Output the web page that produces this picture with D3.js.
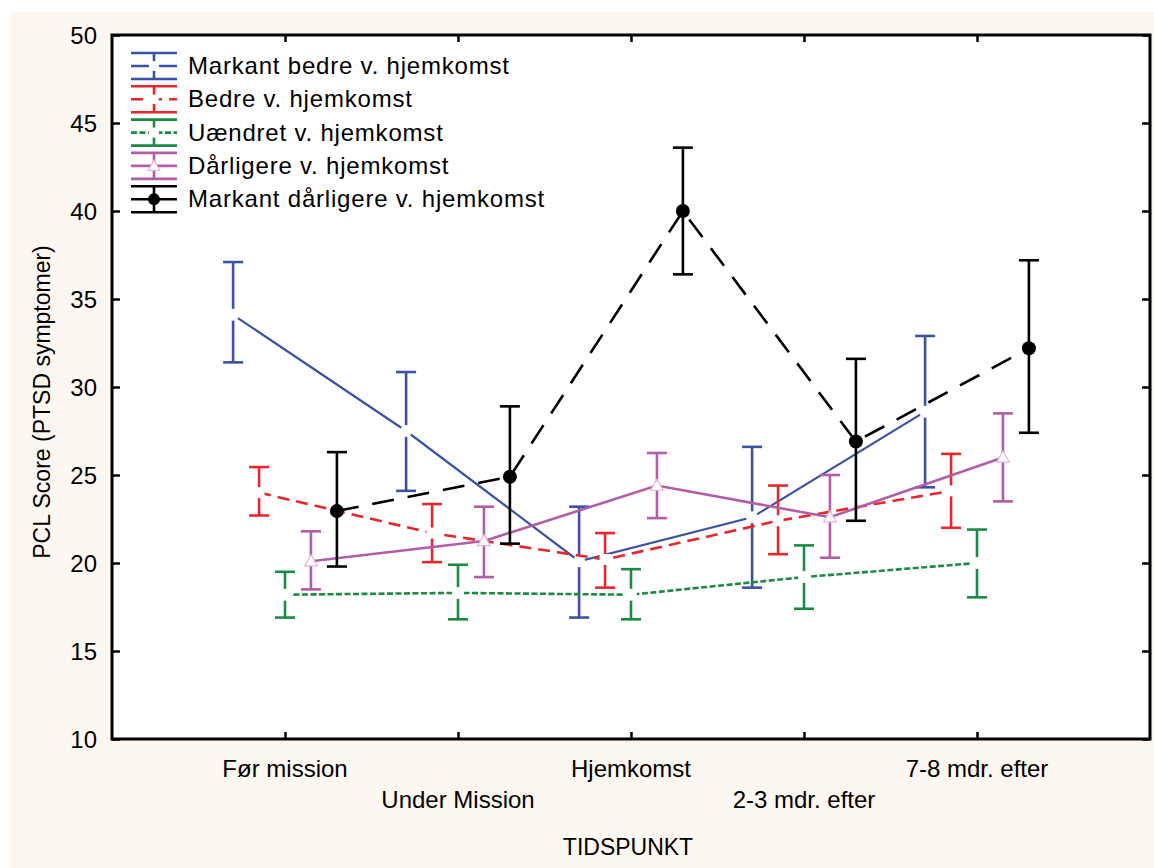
<!DOCTYPE html>
<html>
<head>
<meta charset="utf-8">
<script src="https://d3js.org/d3.v7.min.js"></script>
<style>
  body { margin: 0; background: #fff; }
  svg text { font-family: "Liberation Sans", Arial, sans-serif; fill: #000; }
</style>
</head>
<body>
<div id="chart"></div>
<script>
// time points on the x axis
var categories = ["Før mission", "Under Mission", "Hjemkomst", "2-3 mdr. efter", "7-8 mdr. efter"];

var seriesNames = [
    "Markant bedre v. hjemkomst",
    "Bedre v. hjemkomst",
    "Uændret v. hjemkomst",
    "Dårligere v. hjemkomst",
    "Markant dårligere v. hjemkomst"
];

// means and confidence limits, one array per group
var markantBedreMean = [34.1, 27.5, 20.1, 22.6, 28.6];
var markantBedreLow  = [31.4, 24.1, 16.9, 18.6, 24.3];
var markantBedreHigh = [37.1, 30.85, 23.2, 26.6, 32.9];

var bedreMean = [24.0, 21.7, 20.2, 22.4, 24.1];
var bedreLow  = [22.7, 20.05, 18.6, 20.5, 22.0];
var bedreHigh = [25.45, 23.35, 21.7, 24.4, 26.2];

var uaendretMean = [18.2, 18.3, 18.2, 19.2, 20.0];
var uaendretLow  = [16.9, 16.8, 16.8, 17.4, 18.05];
var uaendretHigh = [19.5, 19.9, 19.65, 21.0, 21.9];

var daarligereMean = [20.1, 21.25, 24.4, 22.6, 26.0];
var daarligereLow  = [18.5, 19.2, 22.55, 20.3, 23.5];
var daarligereHigh = [21.8, 23.2, 26.25, 25.0, 28.5];

var markantDaarligereMean = [22.95, 24.9, 40.0, 26.9, 32.2];
var markantDaarligereLow  = [19.8, 21.1, 36.4, 22.4, 27.4];
var markantDaarligereHigh = [26.3, 28.9, 43.6, 31.6, 37.2];

var yTicks = [10, 15, 20, 25, 30, 35, 40, 45, 50];

var W = 1154, H = 868;
var margin = {top: 35, right: 4, bottom: 129, left: 112};

var series = [
    {name: seriesNames[0], mean: markantBedreMean, lo: markantBedreLow, hi: markantBedreHigh,
     color: "#3a52a3", dash: null, width: 2.2, marker: "circle", offset: -0.3},
    {name: seriesNames[1], mean: bedreMean, lo: bedreLow, hi: bedreHigh,
     color: "#e8262b", dash: "12,7", width: 2.6, marker: "square", offset: -0.15},
    {name: seriesNames[2], mean: uaendretMean, lo: uaendretLow, hi: uaendretHigh,
     color: "#1b8a45", dash: "6,2.5", width: 2.6, marker: "circle", offset: 0},
    {name: seriesNames[3], mean: daarligereMean, lo: daarligereLow, hi: daarligereHigh,
     color: "#b35ca9", dash: null, width: 2.6, marker: "triangle", offset: 0.15},
    {name: seriesNames[4], mean: markantDaarligereMean, lo: markantDaarligereLow, hi: markantDaarligereHigh,
     color: "#000000", dash: "22,14", width: 2.6, marker: "dot", offset: 0.3}
];

var svg = d3.select("#chart").append("svg")
    .attr("width", W)
    .attr("height", H);

// cream page background
svg.append("rect")
    .attr("x", 10).attr("y", 12)
    .attr("width", W - 10).attr("height", H - 12)
    .style("fill", "#fcf8f1");

var xScale = d3.scaleLinear().domain([0, categories.length + 1])
    .range([margin.left, W - margin.right]);
var yScale = d3.scaleLinear().domain([10, 50])
    .range([H - margin.bottom, margin.top]);

var x0 = xScale.range()[0], x1 = xScale.range()[1];
var y0 = yScale.range()[1], y1 = yScale.range()[0];

svg.append("rect")
    .attr("x", x0).attr("y", y0)
    .attr("width", x1 - x0).attr("height", y1 - y0)
    .style("fill", "#fff");

// axes, ticks pointing inwards
var catIdx = categories.map(function(d, i) { return i + 1; });

function styleAxis(g) {
    g.select(".domain").remove();
    g.selectAll(".tick line").style("stroke", "#000").style("stroke-width", 2.5);
}

svg.append("g")
    .attr("transform", "translate(0," + y1 + ")")
    .call(d3.axisBottom(xScale).tickValues(catIdx).tickSize(-7).tickFormat(""))
    .call(styleAxis);
svg.append("g")
    .attr("transform", "translate(0," + y0 + ")")
    .call(d3.axisTop(xScale).tickValues(catIdx).tickSize(-7).tickFormat(""))
    .call(styleAxis);
svg.append("g")
    .attr("transform", "translate(" + x0 + ",0)")
    .call(d3.axisLeft(yScale).tickValues(yTicks).tickSize(-8).tickFormat(""))
    .call(styleAxis);
svg.append("g")
    .attr("transform", "translate(" + x1 + ",0)")
    .call(d3.axisRight(yScale).tickValues(yTicks).tickSize(-8).tickFormat(""))
    .call(styleAxis);

// y tick labels
svg.selectAll(".ylab").data(yTicks).enter().append("text")
    .attr("x", 97)
    .attr("y", function(d) { return yScale(d); })
    .attr("dy", "0.36em")
    .attr("text-anchor", "end")
    .style("font-size", "24px")
    .text(function(d) { return d; });

// x labels on two staggered rows
svg.selectAll(".xlab").data(categories).enter().append("text")
    .attr("x", function(d, i) { return xScale(i + 1); })
    .attr("y", function(d, i) { return i % 2 === 0 ? 777 : 808; })
    .attr("text-anchor", "middle")
    .style("font-size", "24px")
    .text(function(d) { return d; });

svg.append("text")
    .attr("x", 628).attr("y", 855)
    .attr("text-anchor", "middle")
    .style("font-size", "23px")
    .text("TIDSPUNKT");

svg.append("text")
    .attr("transform", "translate(50,402) rotate(-90)")
    .attr("text-anchor", "middle")
    .style("font-size", "23px")
    .text("PCL Score (PTSD symptomer)");

function drawMarker(g, s, cx, cy, scale) {
    scale = scale || 1;
    if (s.marker === "circle") {
        g.append("circle").attr("cx", cx).attr("cy", cy).attr("r", 6 * scale)
            .style("fill", "#fff");
    } else if (s.marker === "square") {
        g.append("rect").attr("x", cx - 5.5 * scale).attr("y", cy - 5.5 * scale)
            .attr("width", 11 * scale).attr("height", 11 * scale)
            .style("fill", "#fff");
    } else if (s.marker === "triangle") {
        g.append("path")
            .attr("d", d3.symbol().type(d3.symbolTriangle).size(70 * scale)())
            .attr("transform", "translate(" + cx + "," + (cy + 1) + ")")
            .style("fill", "#fff").style("stroke", "#e2b6dc").style("stroke-width", 1.2);
    } else {
        g.append("circle").attr("cx", cx).attr("cy", cy).attr("r", 7 * scale)
            .style("fill", s.color);
    }
}

var line = d3.line()
    .x(function(d) { return xScale(d.i + 1 + d.off); })
    .y(function(d) { return yScale(d.v); });

var plot = svg.append("g");

series.forEach(function(s) {
    var g = plot.append("g");
    var pts = s.mean.map(function(v, i) {
        return {i: i, v: v, lo: s.lo[i], hi: s.hi[i], off: s.offset};
    });

    g.append("path")
        .datum(pts)
        .attr("d", line)
        .style("fill", "none")
        .style("stroke", s.color)
        .style("stroke-width", s.width)
        .style("stroke-dasharray", s.dash);

    pts.forEach(function(p) {
        var cx = xScale(p.i + 1 + p.off);
        g.append("line")
            .attr("x1", cx).attr("x2", cx)
            .attr("y1", yScale(p.lo)).attr("y2", yScale(p.hi))
            .style("stroke", s.color).style("stroke-width", 2.6);
        [p.lo, p.hi].forEach(function(v) {
            g.append("line")
                .attr("x1", cx - 10).attr("x2", cx + 10)
                .attr("y1", yScale(v)).attr("y2", yScale(v))
                .style("stroke", s.color).style("stroke-width", 2.6);
        });
        drawMarker(g, s, cx, yScale(p.v));
    });
});

// frame
svg.append("rect")
    .attr("x", x0).attr("y", y0)
    .attr("width", x1 - x0).attr("height", y1 - y0)
    .style("fill", "none").style("stroke", "#000").style("stroke-width", 3);

// legend
var legend = svg.append("g");
series.forEach(function(s, k) {
    var cy = 66 + k * 33.3;
    var lx0 = 131, lx1 = 177, cx = 154;
    var g = legend.append("g");
    [cy - 13, cy + 13].forEach(function(yy) {
        g.append("line").attr("x1", lx0).attr("x2", lx1).attr("y1", yy).attr("y2", yy)
            .style("stroke", s.color).style("stroke-width", 2.6);
    });
    g.append("line").attr("x1", lx0).attr("x2", lx1).attr("y1", cy).attr("y2", cy)
        .style("stroke", s.color).style("stroke-width", 2.6)
        .style("stroke-dasharray", s.marker === "dot" ? null : (s.dash === "6,2.5" ? "6,2.5" : s.dash ? "12,7" : null));
    g.append("line").attr("x1", cx).attr("x2", cx).attr("y1", cy - 13).attr("y2", cy + 13)
        .style("stroke", s.color).style("stroke-width", 2.6);
    drawMarker(g, s, cx, cy, 0.85);
    g.append("text")
        .attr("x", 188).attr("y", cy + 8)
        .style("font-size", "24px")
        .style("letter-spacing", "0.8px")
        .text(s.name);
});
</script>
</body>
</html>
